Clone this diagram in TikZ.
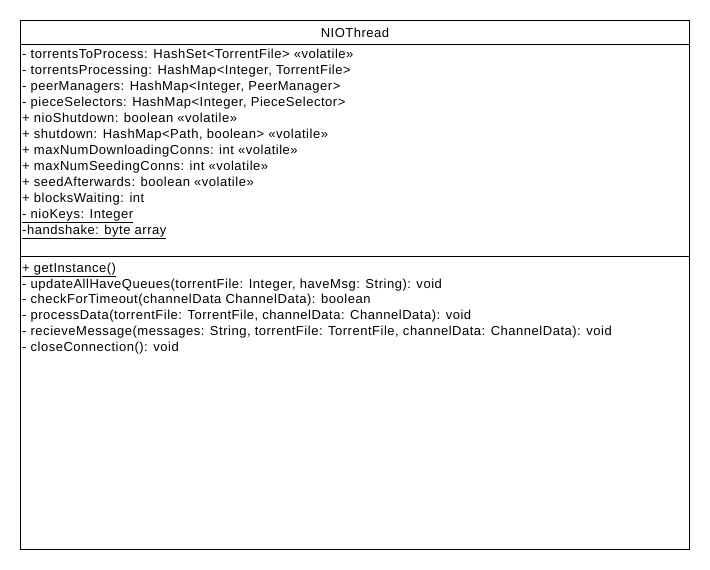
\documentclass[tikz,border=0pt]{standalone}
\usepackage{fontspec}
\setmainfont[LetterSpace=4]{Liberation Sans}
\usepackage{tikz}

\tikzset{
  member/.style={anchor=base west, inner sep=0pt, font=\fontsize{13}{15}\selectfont},
  classline/.style={line width=1pt}
}

\begin{document}
\begin{tikzpicture}[x=1pt,y=-1pt]
        % Page frame
        \useasboundingbox (0,0) rectangle (710,570);
        \fill[white] (0,0) rectangle (710,570);

        % Draw the class box
        \draw[classline] (20,20) rectangle (689,549);
        \draw[classline] (20,44) -- (689,44);
        \draw[classline] (20,256) -- (689,256);

        % Class name
        \node[anchor=base, inner sep=0pt, font=\fontsize{13}{15}\selectfont] (name) at (355,37.5) {NIOThread};

        % Define attributes
        \node[member] (tp) at (22,58) {- torrentsToProcess: HashSet<TorrentFile> «volatile»};
        \node[member] (tpr) at (22,74) {- torrentsProcessing: HashMap<Integer, TorrentFile>};
        \node[member] (pm) at (22,90) {- peerManagers: HashMap<Integer, PeerManager>};
        \node[member] (ps) at (22,106) {- pieceSelectors: HashMap<Integer, PieceSelector>};
        \node[member] (nsd) at (22,122) {+ nioShutdown: boolean «volatile»};
        \node[member] (sd) at (22,138) {+ shutdown: HashMap<Path, boolean> «volatile»};
        \node[member] (mdc) at (22,154) {+ maxNumDownloadingConns: int «volatile»};
        \node[member] (msc) at (22,170) {+ maxNumSeedingConns: int «volatile»};
        \node[member] (sa) at (22,186) {+ seedAfterwards: boolean «volatile»};
        \node[member] (bw) at (22,202) {+ blocksWaiting: int};
        \node[member] (nk) at (22,218) {\underline{- nioKeys: Integer}};
        \node[member] (hs) at (22,234) {\underline{-handshake: byte array}};

        % Define methods
        \node[member] (gi) at (22,272) {\underline{+ getInstance()}};
        \node[member] (uahq) at (22,288) {- updateAllHaveQueues(torrentFile: Integer, haveMsg: String): void};
        \node[member] (cft) at (22,303.5) {- checkForTimeout(channelData ChannelData): boolean};
        \node[member] (pd) at (22,319.5) {- processData(torrentFile: TorrentFile, channelData: ChannelData): void};
        \node[member] (rm) at (22,335) {- recieveMessage(messages: String, torrentFile: TorrentFile, channelData: ChannelData): void};
        \node[member] (cc) at (22,351) {- closeConnection(): void};
    \end{tikzpicture}
\end{document}
